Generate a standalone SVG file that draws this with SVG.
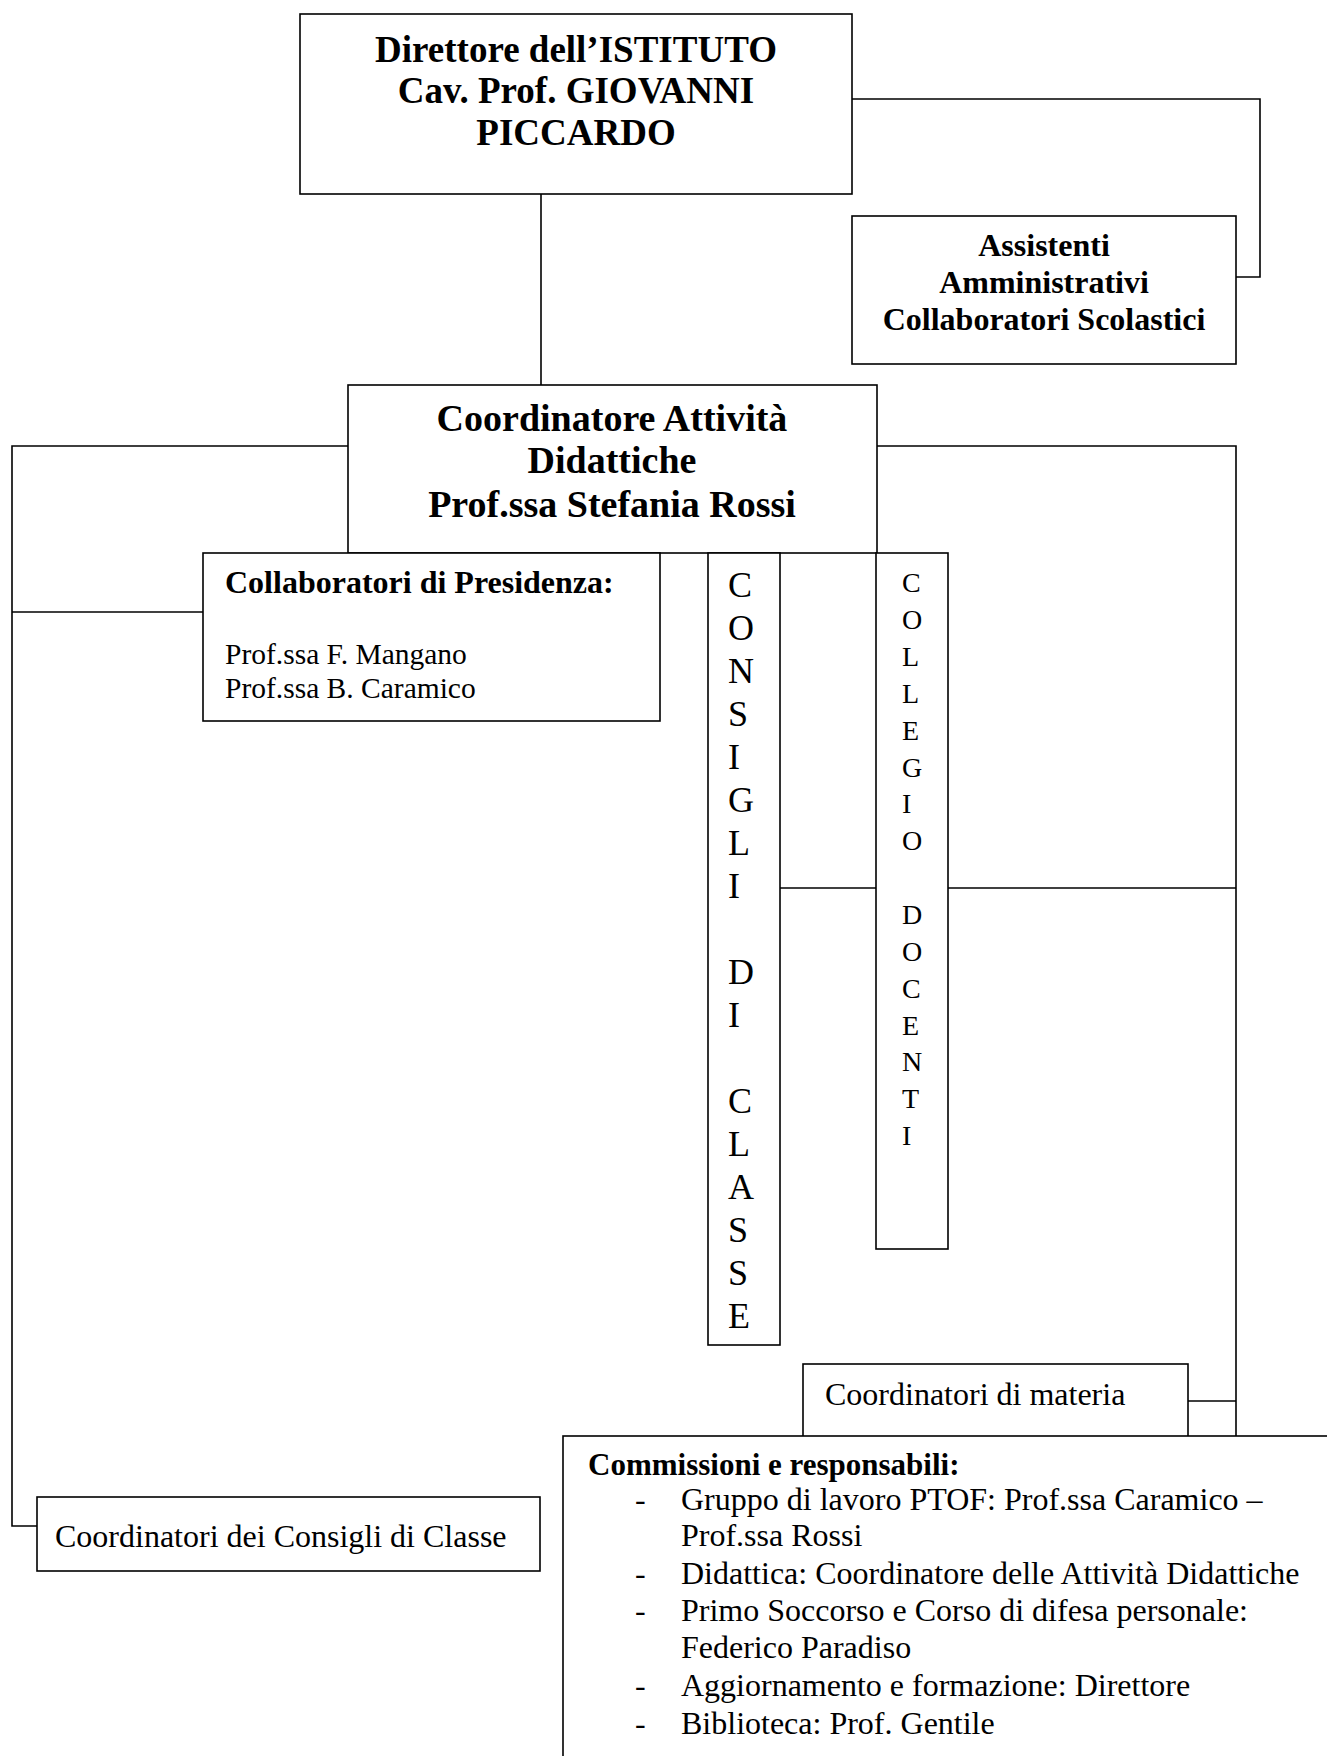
<svg xmlns="http://www.w3.org/2000/svg" width="1327" height="1756" viewBox="0 0 1327 1756">
  <style>
    .box { fill: #fff; stroke: #000; stroke-width: 1.6; }
    .wire { fill: none; stroke: #000; stroke-width: 1.6; }
    text { font-family: "Liberation Serif", "Times New Roman", serif; fill: #000; }
    .b { font-weight: bold; }
    .c { text-anchor: middle; }
  </style>
  <rect x="0" y="0" width="1327" height="1756" fill="#fff"/>

  <!-- connectors -->
  <g id="connectors" class="wire">
    <path d="M541 194 V385"/>
    <path d="M852 99 H1260 V277 H1236"/>
    <path d="M348 446 H12 V1526 H37"/>
    <path d="M12 612 H203"/>
    <path d="M877 446 H1236 V1436"/>
    <path d="M780 888 H876"/>
    <path d="M948 888 H1236"/>
    <path d="M1188 1401 H1236"/>
  </g>

  <g id="direttore">
    <rect class="box" x="300" y="14" width="552" height="180"/>
    <text class="b c" x="576" y="62" font-size="37">Direttore dell’ISTITUTO</text>
    <text class="b c" x="576" y="103" font-size="37">Cav. Prof. GIOVANNI</text>
    <text class="b c" x="576" y="145" font-size="37">PICCARDO</text>
  </g>

  <g id="assistenti">
    <rect class="box" x="852" y="216" width="384" height="148"/>
    <text class="b c" x="1044" y="256" font-size="32">Assistenti</text>
    <text class="b c" x="1044" y="293" font-size="32">Amministrativi</text>
    <text class="b c" x="1044" y="330" font-size="32">Collaboratori Scolastici</text>
  </g>

  <g id="coordinatore">
    <rect class="box" x="348" y="385" width="529" height="168"/>
    <text class="b c" x="612" y="431" font-size="38">Coordinatore Attività</text>
    <text class="b c" x="612" y="473" font-size="38">Didattiche</text>
    <text class="b c" x="612" y="517" font-size="38">Prof.ssa Stefania Rossi</text>
  </g>

  <g id="collaboratori-presidenza">
    <rect class="box" x="203" y="553" width="457" height="168"/>
    <text class="b" x="225" y="593" font-size="32">Collaboratori di Presidenza:</text>
    <text x="225" y="664" font-size="29.5">Prof.ssa F. Mangano</text>
    <text x="225" y="698" font-size="29.5">Prof.ssa B. Caramico</text>
  </g>

  <g id="consigli-di-classe">
    <rect class="box" x="708" y="553" width="72" height="792"/>
    <g font-size="36">
      <text x="728" y="597">C</text>
      <text x="728" y="640">O</text>
      <text x="728" y="683">N</text>
      <text x="728" y="726">S</text>
      <text x="728" y="769">I</text>
      <text x="728" y="812">G</text>
      <text x="728" y="855">L</text>
      <text x="728" y="898">I</text>
      <text x="728" y="984">D</text>
      <text x="728" y="1027">I</text>
      <text x="728" y="1113">C</text>
      <text x="728" y="1156">L</text>
      <text x="728" y="1199">A</text>
      <text x="728" y="1242">S</text>
      <text x="728" y="1285">S</text>
      <text x="728" y="1328">E</text>
    </g>
  </g>

  <g id="collegio-docenti">
    <rect class="box" x="876" y="553" width="72" height="696"/>
    <g font-size="28">
      <text x="902" y="592">C</text>
      <text x="902" y="629">O</text>
      <text x="902" y="666">L</text>
      <text x="902" y="703">L</text>
      <text x="902" y="740">E</text>
      <text x="902" y="777">G</text>
      <text x="902" y="813">I</text>
      <text x="902" y="850">O</text>
      <text x="902" y="924">D</text>
      <text x="902" y="961">O</text>
      <text x="902" y="998">C</text>
      <text x="902" y="1035">E</text>
      <text x="902" y="1071">N</text>
      <text x="902" y="1108">T</text>
      <text x="902" y="1145">I</text>
    </g>
  </g>

  <g id="coordinatori-consigli">
    <rect class="box" x="37" y="1497" width="503" height="74"/>
    <text x="55" y="1547" font-size="32">Coordinatori dei Consigli di Classe</text>
  </g>

  <g id="coordinatori-materia">
    <rect class="box" x="803" y="1364" width="385" height="90"/>
    <text x="825" y="1405" font-size="32">Coordinatori di materia</text>
  </g>

  <g id="commissioni">
    <rect class="box" x="563" y="1436" width="800" height="400"/>
    <text class="b" x="588" y="1475" font-size="31">Commissioni e responsabili:</text>
    <g font-size="32">
      <text x="635" y="1510">-</text>
      <text x="681" y="1510">Gruppo di lavoro PTOF: Prof.ssa Caramico –</text>
      <text x="681" y="1546">Prof.ssa Rossi</text>
      <text x="635" y="1584">-</text>
      <text x="681" y="1584">Didattica: Coordinatore delle Attività Didattiche</text>
      <text x="635" y="1621">-</text>
      <text x="681" y="1621">Primo Soccorso e Corso di difesa personale:</text>
      <text x="681" y="1658">Federico Paradiso</text>
      <text x="635" y="1696">-</text>
      <text x="681" y="1696">Aggiornamento e formazione: Direttore</text>
      <text x="635" y="1734">-</text>
      <text x="681" y="1734">Biblioteca: Prof. Gentile</text>
    </g>
  </g>
</svg>
